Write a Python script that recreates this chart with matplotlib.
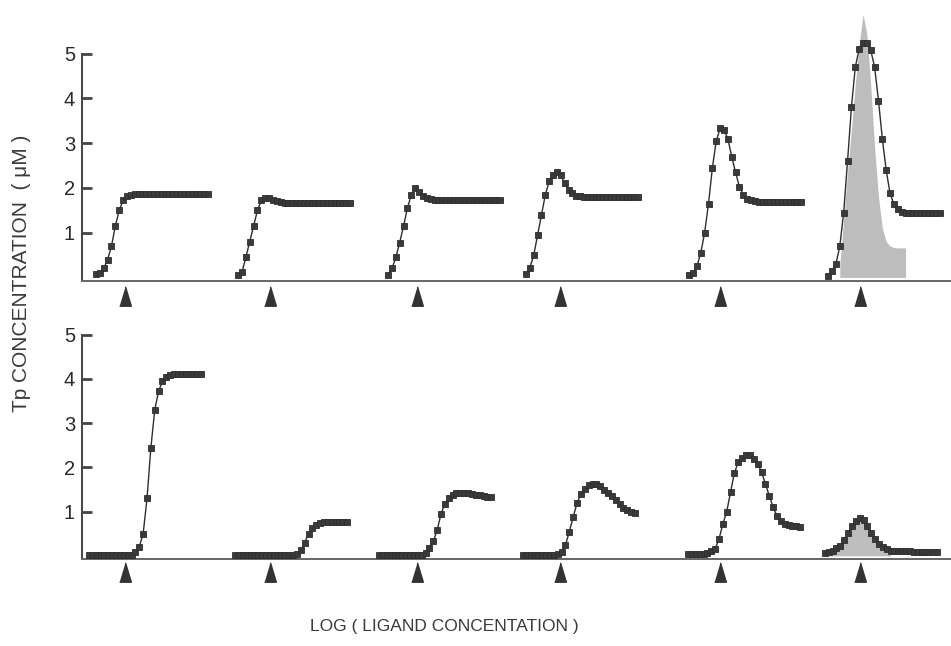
import numpy as np
import matplotlib
matplotlib.use("Agg")
import matplotlib.pyplot as plt

plt.rcParams['font.family'] = ['Liberation Sans', 'DejaVu Sans']

# log ligand concentration: each run covers 4 decades on its own stretch of the axis
grid = np.linspace(0, 4, 30)
top_start = [0.5, 5.57, 10.92, 15.84, 21.66, 26.62]
bot_start = [0.25, 5.46, 10.6, 15.73, 21.62, 26.5]
arrows = [1.53, 6.71, 11.95, 17.05, 22.76, 27.76]

top_curves = [
    [0.08, 0.10, 0.20, 0.40, 0.70, 1.15, 1.50, 1.72, 1.82, 1.85, 1.86, 1.86, 1.86, 1.86, 1.86,
     1.86, 1.86, 1.86, 1.86, 1.86, 1.86, 1.86, 1.86, 1.86, 1.86, 1.86, 1.86, 1.86, 1.86, 1.86],
    [0.05, 0.12, 0.45, 0.80, 1.15, 1.50, 1.72, 1.78, 1.77, 1.73, 1.70, 1.68, 1.67, 1.67, 1.67,
     1.67, 1.67, 1.67, 1.67, 1.67, 1.67, 1.67, 1.67, 1.67, 1.67, 1.67, 1.67, 1.67, 1.67, 1.67],
    [0.05, 0.20, 0.45, 0.78, 1.15, 1.55, 1.85, 2.00, 1.92, 1.83, 1.77, 1.75, 1.74, 1.74, 1.74,
     1.74, 1.74, 1.74, 1.74, 1.74, 1.74, 1.74, 1.74, 1.74, 1.74, 1.74, 1.74, 1.74, 1.74, 1.74],
    [0.08, 0.22, 0.50, 0.95, 1.40, 1.85, 2.15, 2.30, 2.36, 2.28, 2.10, 1.96, 1.88, 1.83, 1.81,
     1.80, 1.80, 1.80, 1.80, 1.80, 1.80, 1.80, 1.80, 1.80, 1.80, 1.80, 1.80, 1.80, 1.80, 1.80],
    [0.06, 0.10, 0.25, 0.55, 1.00, 1.65, 2.45, 3.05, 3.33, 3.30, 3.10, 2.70, 2.35, 2.02, 1.85,
     1.76, 1.72, 1.70, 1.69, 1.69, 1.69, 1.69, 1.69, 1.69, 1.69, 1.69, 1.69, 1.69, 1.69, 1.69],
    [0.04, 0.15, 0.30, 0.70, 1.45, 2.60, 3.80, 4.70, 5.10, 5.25, 5.24, 5.08, 4.70, 3.95, 3.10,
     2.39, 1.88, 1.63, 1.52, 1.46, 1.44, 1.43, 1.43, 1.43, 1.43, 1.43, 1.43, 1.43, 1.43, 1.43],
]
# shaded profile under the last top run (grid points 3..20)
top_shade = [0.30, 1.30, 2.35, 3.30, 4.32, 5.20, 5.88, 5.44, 4.30, 2.90, 1.80, 1.10, 0.80, 0.70,
             0.67, 0.66, 0.66, 0.66]

bot_curves = [
    [0.02, 0.02, 0.02, 0.02, 0.02, 0.02, 0.02, 0.02, 0.02, 0.02, 0.02, 0.03, 0.08, 0.20, 0.50,
     1.30, 2.44, 3.30, 3.72, 3.95, 4.05, 4.09, 4.11, 4.11, 4.11, 4.11, 4.11, 4.11, 4.11, 4.11],
    [0.02, 0.02, 0.02, 0.02, 0.02, 0.02, 0.02, 0.02, 0.02, 0.02, 0.02, 0.02, 0.02, 0.02, 0.02,
     0.02, 0.05, 0.13, 0.30, 0.50, 0.62, 0.70, 0.74, 0.76, 0.77, 0.77, 0.77, 0.77, 0.77, 0.77],
    [0.02, 0.02, 0.02, 0.02, 0.02, 0.02, 0.02, 0.02, 0.02, 0.02, 0.02, 0.02, 0.07, 0.18, 0.33,
     0.58, 0.95, 1.18, 1.30, 1.38, 1.42, 1.43, 1.43, 1.42, 1.40, 1.38, 1.37, 1.35, 1.34, 1.33],
    [0.02, 0.02, 0.02, 0.02, 0.02, 0.02, 0.02, 0.02, 0.02, 0.04, 0.08, 0.25, 0.55, 0.88, 1.20,
     1.40, 1.52, 1.60, 1.63, 1.62, 1.57, 1.50, 1.43, 1.35, 1.26, 1.17, 1.09, 1.03, 1.00, 0.97],
    [0.04, 0.04, 0.04, 0.04, 0.04, 0.06, 0.10, 0.16, 0.38, 0.72, 1.00, 1.45, 1.88, 2.12, 2.22,
     2.27, 2.27, 2.20, 2.08, 1.90, 1.63, 1.36, 1.10, 0.90, 0.80, 0.73, 0.70, 0.68, 0.67, 0.66],
    [0.07, 0.09, 0.12, 0.17, 0.23, 0.35, 0.52, 0.68, 0.80, 0.86, 0.82, 0.68, 0.52, 0.38, 0.27,
     0.20, 0.15, 0.12, 0.11, 0.10, 0.10, 0.10, 0.10, 0.09, 0.09, 0.09, 0.09, 0.09, 0.09, 0.09],
]
# shaded profile under the last bottom run (grid points 1..17)
bot_shade = [0.06, 0.10, 0.15, 0.21, 0.33, 0.50, 0.66, 0.78, 0.84, 0.80, 0.66, 0.50, 0.36, 0.25,
             0.18, 0.13, 0.10]

yticks = [1, 2, 3, 4, 5]

W, H = 951, 646
fig = plt.figure(figsize=(W / 100, H / 100), dpi=100)
ax1 = fig.add_axes([82 / W, 1 - 281 / H, 869 / W, 281 / H])
ax2 = fig.add_axes([82 / W, 1 - 559 / H, 869 / W, 242 / H])

tri = [(-0.6, -1), (0.6, -1), (0, 1)]
ink = '#2e2e2e'


def panel(ax, starts, curves, shade, s0, ylo, yhi):
    ax.set_xlim(0, 31)
    ax.set_ylim(ylo, yhi)
    for st, ys in zip(starts, curves):
        ax.plot(st + grid, ys, color=ink, lw=1, marker='s', ms=4.6,
                mfc='#3a3a3a', mec=ink, mew=0.6, zorder=3)
    xs = starts[-1] + grid[s0:s0 + len(shade)]
    ax.fill_between(xs, 0, shade, color='#bdbdbd', lw=0, zorder=2)
    ax.plot(arrows, [ylo - 0.33 * (yhi - ylo) / 6.28] * len(arrows), ls='none',
            marker=tri, ms=14, color='#333333', clip_on=False)
    for s in ['top', 'right']:
        ax.spines[s].set_visible(False)
    ax.spines['left'].set_bounds(ylo, 5)
    ax.spines['left'].set_color('#444444')
    ax.spines['left'].set_linewidth(1.4)
    ax.spines['bottom'].set_color('#666666')
    ax.spines['bottom'].set_linewidth(1.4)
    ax.set_xticks([])
    ax.set_yticks(yticks)
    ax.tick_params(axis='y', direction='in', length=7, width=2, color='#444444',
                   labelsize=14.5, labelcolor='#2a2a2a', pad=5)


panel(ax1, top_start, top_curves, top_shade, 3, -0.08, 6.2)
panel(ax2, bot_start, bot_curves, bot_shade, 1, -0.07, 5.4)

fig.text(22 / W, 1 - 273 / H, 'Tp CONCENTRATION  ( \u03bcM )', rotation=90,
         ha='center', va='center', fontsize=15, color='#3a3a3a')
fig.text(444 / W, 1 - 627 / H, 'LOG ( LIGAND CONCENTATION )', ha='center', va='center',
         fontsize=12.5, color='#3a3a3a')

fig.savefig('out.png', dpi=100, facecolor='white')
